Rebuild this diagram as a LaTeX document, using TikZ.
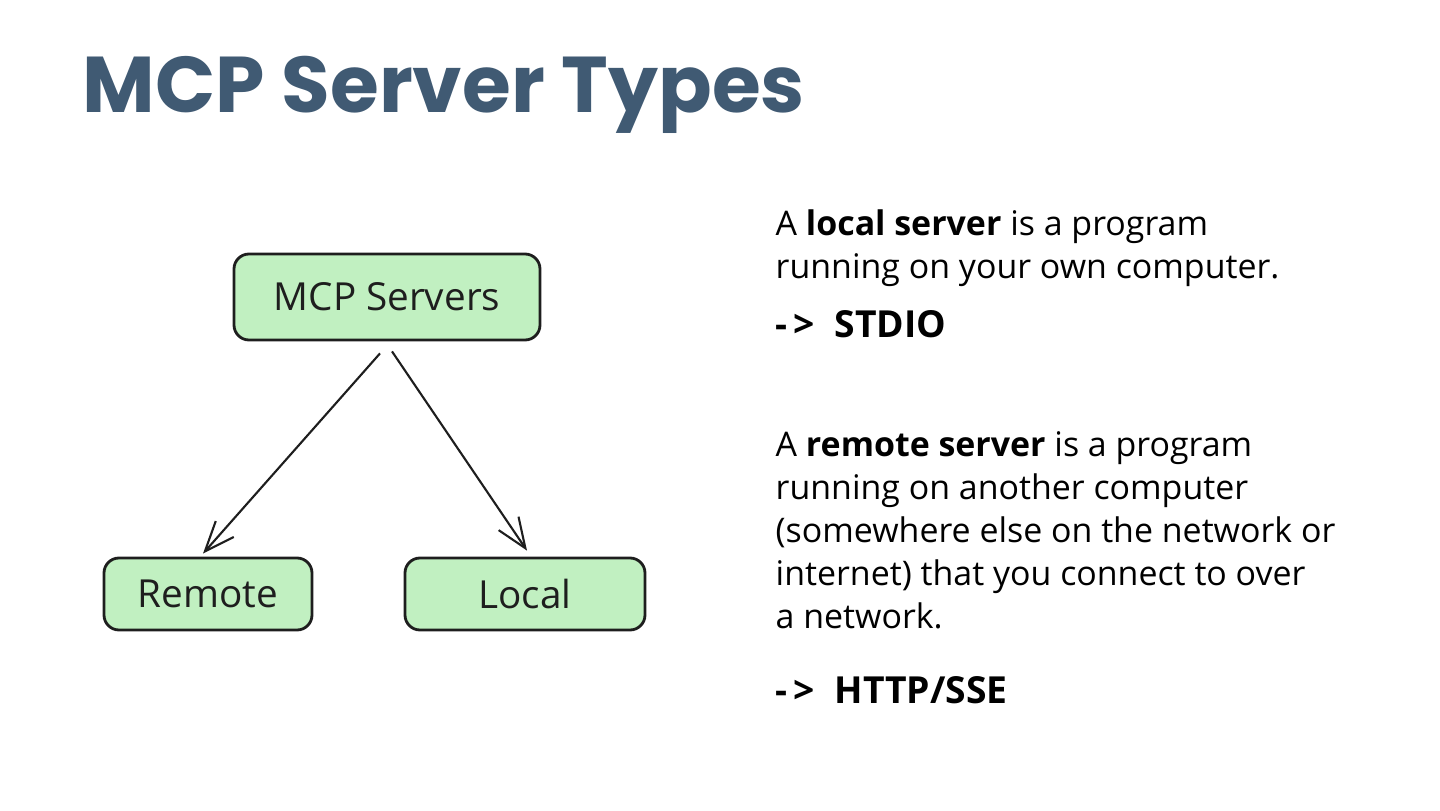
\documentclass[tikz,border=0pt]{standalone}
\usepackage{fontspec}
\setmainfont{Open Sans}
\newfontfamily\titlefont{Poppins}
\usetikzlibrary{positioning,arrows.meta}

\definecolor{titleblue}{RGB}{64,90,115}
\definecolor{boxgreen}{RGB}{193,240,193}
\definecolor{ink}{RGB}{30,30,30}

\tikzset{
  box/.style={draw=ink,fill=boxgreen,rounded corners=0.15cm,line width=0.8pt,text=ink,font=\fontsize{11}{13}\selectfont},
  desc/.style={anchor=base west,align=left,inner sep=0pt,font=\fontsize{9.65}{12.2}\selectfont},
  proto/.style={anchor=base west,inner sep=0pt,font=\bfseries\fontsize{10.6}{12.2}\selectfont},
}

\begin{document}
\begin{tikzpicture}[>={Straight Barb[length=3mm,width=2.4mm]}]
\useasboundingbox (0,0) rectangle (14.4,8.1);
\node[anchor=base west,inner sep=0pt,text=titleblue,font=\titlefont\bfseries\fontsize{22.5}{27}\selectfont] (title) at (0.82,6.98) {MCP Server Types};
\node[box,minimum width=3.06cm,minimum height=0.86cm] (0) at (3.87,5.13) {MCP Servers};
\node[box,minimum width=2.08cm,minimum height=0.72cm] (1) at (2.08,2.16) {Remote};
\node[box,minimum width=2.40cm,minimum height=0.72cm] (2) at (5.25,2.16) {Local};
\draw[->,line width=0.6pt,ink]([shift={(-0.07,-0.12)}]0.south)to ([shift={(-0.05,0.03)}]1.north);
\draw[->,line width=0.6pt,ink]([shift={(0.05,-0.10)}]0.south)to ([shift={(0.02,0.06)}]2.north);
% base of a multi-line node is its last line
\node[desc] (local) at (7.75,5.32) {A \textbf{local server} is a program\\running on your own computer.};
\node[proto] (stdio) at (7.75,4.73) {-\,>\ \ STDIO};
\node[desc] (remote) at (7.75,1.82) {A \textbf{remote server} is a program\\running on another computer\\(somewhere else on the network or\\internet) that you connect to over\\a network.};
\node[proto] (http) at (7.75,1.07) {-\,>\ \ HTTP/SSE};
\end{tikzpicture}
\end{document}
